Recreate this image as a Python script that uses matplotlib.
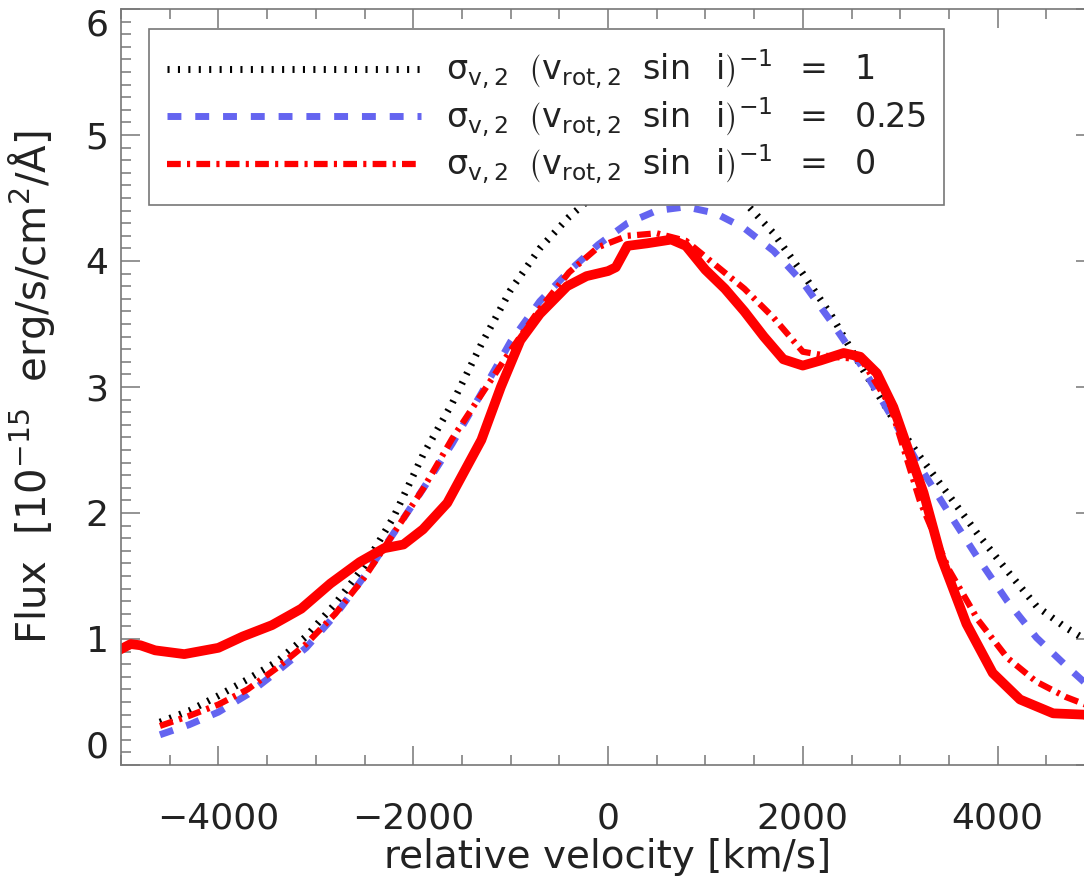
import matplotlib
matplotlib.use('Agg')
import matplotlib.pyplot as plt
import numpy as np

plt.rcParams['font.family'] = ['DejaVu Sans']
plt.rcParams['mathtext.default'] = 'regular'

# observed line profile (red solid)
v_obs = [-5000, -4900, -4800, -4650, -4350, -4000, -3750, -3450, -3150, -2850,
         -2550, -2300, -2100, -1900, -1650, -1300, -1100, -900, -700, -420,
         -220, 0, 80, 200, 400, 650, 800, 1000, 1200, 1400, 1600, 1800,
         2000, 2180, 2420, 2590, 2760, 2930, 3070, 3240, 3420, 3680, 3950,
         4230, 4570, 4880, 5000]
flux_obs = [0.92, 0.96, 0.95, 0.91, 0.88, 0.93, 1.02, 1.11, 1.24, 1.44,
            1.61, 1.72, 1.75, 1.87, 2.08, 2.58, 3.00, 3.37, 3.58, 3.80,
            3.88, 3.92, 3.95, 4.12, 4.14, 4.17, 4.12, 3.93, 3.78, 3.60, 3.40, 3.22,
            3.17, 3.21, 3.27, 3.24, 3.11, 2.84, 2.53, 2.16, 1.65, 1.12, 0.73,
            0.52, 0.41, 0.40, 0.38]

# model profiles
v_mod = [-4600, -4300, -4000, -3700, -3400, -3100, -2800, -2500, -2200, -1900,
         -1600, -1300, -1000, -700, -400, -100, 200, 500, 800, 1100, 1400,
         1700, 2000, 2300, 2600, 2900, 3200, 3500, 3800, 4100, 4400, 4700, 5000]
flux_s1 = [0.34, 0.43, 0.55, 0.68, 0.82, 1.02, 1.28, 1.58, 1.97, 2.46,
           2.87, 3.34, 3.77, 4.10, 4.35, 4.55, 4.74, 4.83, 4.80, 4.64, 4.47,
           4.22, 3.90, 3.56, 3.16, 2.78, 2.45, 2.14, 1.83, 1.54, 1.26, 1.09, 0.95]
flux_s025 = [0.24, 0.32, 0.42, 0.56, 0.74, 0.93, 1.19, 1.50, 1.84, 2.19,
             2.55, 2.95, 3.36, 3.68, 3.92, 4.13, 4.30, 4.40, 4.43, 4.38, 4.26,
             4.08, 3.83, 3.51, 3.17, 2.78, 2.37, 2.00, 1.64, 1.30, 1.01, 0.79, 0.58]
flux_s0 = [0.31, 0.39, 0.48, 0.60, 0.77, 0.96, 1.20, 1.49, 1.84, 2.19,
           2.59, 2.94, 3.29, 3.62, 3.91, 4.11, 4.20, 4.22, 4.16, 3.97, 3.78,
           3.55, 3.28, 3.24, 3.22, 2.85, 2.10, 1.55, 1.15, 0.85, 0.66, 0.54, 0.45]

labels = [r'$\sigma_{v,2}\ \;\left(v_{rot,2}\ \;\sin\ \;i\right)^{-1}\ \;=\ \;1$',
          r'$\sigma_{v,2}\ \;\left(v_{rot,2}\ \;\sin\ \;i\right)^{-1}\ \;=\ \;0.25$',
          r'$\sigma_{v,2}\ \;\left(v_{rot,2}\ \;\sin\ \;i\right)^{-1}\ \;=\ \;0$']

W, H = 1084, 891
fig = plt.figure(figsize=(W / 100, H / 100), dpi=100)
# right part of the frame is cut off in the original
ax = fig.add_axes([121 / W, 126 / H, 974 / W, 756 / H])

ax.plot(v_mod, flux_s1, color='black', lw=5, linestyle=(0, (0.3, 1.2)), label=labels[0])
ax.plot(v_mod, flux_s025, color='#6464f0', lw=5, linestyle=(0, (2.0, 2.0)), label=labels[1])
ax.plot(v_mod, flux_s0, color='red', lw=4.5, linestyle=(0, (2.2, 1.0, 0.5, 1.0)), label=labels[2])
ax.plot(v_obs, flux_obs, color='red', lw=7, solid_joinstyle='round')

ax.set_xlim(-5000, 5000)
ax.set_ylim(0, 6)
ax.set_xticks([-4000, -2000, 0, 2000, 4000])
ax.set_xticklabels(['\u22124000', '\u22122000', '0', '2000', '4000'])
ax.set_xticks(np.arange(-5000, 5001, 500), minor=True)
ax.set_yticks([0, 1, 2, 3, 4, 5, 6])
ax.set_yticks(np.arange(0, 6.01, 0.1), minor=True)

for s in ax.spines.values():
    s.set_color('#777777')
    s.set_linewidth(1.2)
ax.tick_params(which='both', direction='in', top=True, right=True,
               colors='#777777', labelcolor='#222222', labelsize=26, width=1.1)
ax.tick_params(which='major', length=14)
ax.tick_params(which='minor', length=7)
ax.tick_params(axis='x', pad=26)
ax.tick_params(axis='y', pad=9)
ylabs = ax.get_yticklabels()
ylabs[0].set_va('bottom')
ylabs[-1].set_va('top')

ax.set_xlabel('relative velocity [km/s]', fontsize=28, color='#222222')
ax.xaxis.set_label_coords(487 / 974, -0.097)
ax.set_ylabel(r'Flux  [10$^{-15}$  erg/s/cm$^2$/Å]', fontsize=29, color='#222222')
ax.yaxis.set_label_coords(-0.066, 0.5)

leg = ax.legend(loc='upper left', bbox_to_anchor=(28 / 974, 736 / 756), borderaxespad=0,
                fontsize=24, handlelength=7.6, handletextpad=0.75, labelspacing=0.12,
                fancybox=False, framealpha=1, edgecolor='#777777', borderpad=0.55)
leg.get_frame().set_linewidth(1.2)
for t in leg.get_texts():
    t.set_color('#222222')

fig.savefig('out.png', dpi=100)
